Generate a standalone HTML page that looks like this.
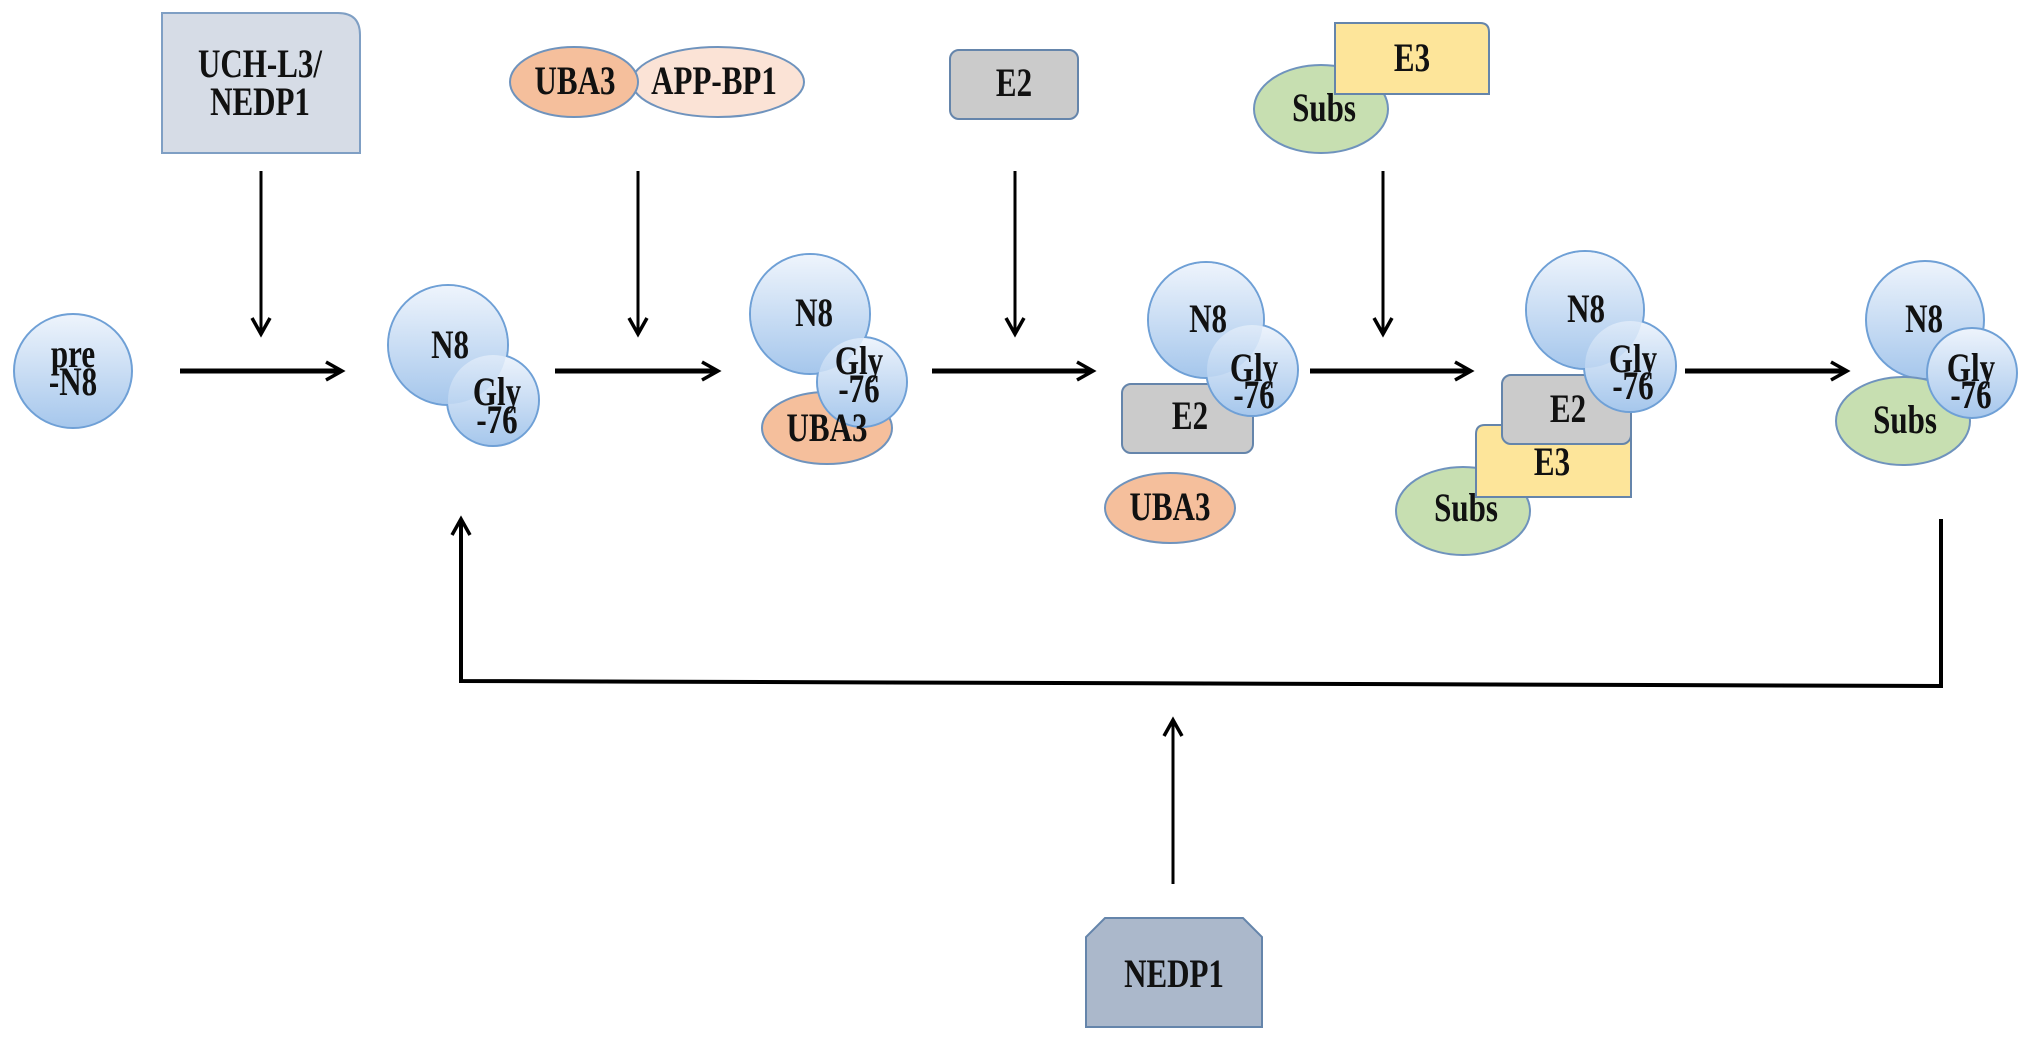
<!DOCTYPE html>
<html><head><meta charset="utf-8"><style>
html,body{margin:0;padding:0;background:#fff;width:2031px;height:1040px;overflow:hidden}
svg text{font-family:"Liberation Serif",serif;font-weight:bold;font-size:31px;fill:#111;text-anchor:middle}
</style></head><body>
<svg width="2031" height="1040" viewBox="0 0 2031 1040" xmlns="http://www.w3.org/2000/svg">
<defs>
<linearGradient id="bl" x1="0" y1="0" x2="0" y2="1"><stop offset="0" stop-color="#eef4fc"/><stop offset="1" stop-color="#a6c7ec"/></linearGradient>
<g id="ah"><path d="M-9,-16 L0,0 L9,-16" fill="none" stroke="#000" stroke-width="3.5"/></g>
</defs>

<!-- top row -->
<path d="M162,13 H338 Q360,13 360,35 V153 H162 Z" fill="#d6dce6" stroke="#7f9fc4" stroke-width="2"/>
<text transform="translate(260,77) scale(1,1.3)">UCH-L3/</text>
<text transform="translate(260,115) scale(1,1.3)">NEDP1</text>

<ellipse cx="718" cy="82" rx="86" ry="35" fill="#fbe3d6" stroke="#6f93bd" stroke-width="2"/>
<ellipse cx="574" cy="82" rx="64" ry="35" fill="#f5bf9c" stroke="#6f93bd" stroke-width="2"/>
<text transform="translate(575,94) scale(1,1.3)">UBA3</text>
<text transform="translate(714,94) scale(1,1.3)">APP-BP1</text>

<rect x="950" y="50" width="128" height="69" rx="9" fill="#cbcbcb" stroke="#6585ab" stroke-width="2"/>
<text transform="translate(1014,96) scale(1,1.3)">E2</text>

<ellipse cx="1321" cy="109" rx="67" ry="44" fill="#c7dfb1" stroke="#6f93bd" stroke-width="2"/>
<path d="M1335,23 H1480 Q1489,23 1489,32 V94 H1335 Z" fill="#fde59a" stroke="#6585ab" stroke-width="2"/>
<text transform="translate(1412,71) scale(1,1.3)">E3</text>
<text transform="translate(1324,121) scale(1,1.3)">Subs</text>

<!-- down arrows -->
<g stroke="#000" stroke-width="3">
<line x1="261" y1="171" x2="261" y2="333"/>
<line x1="638" y1="171" x2="638" y2="333"/>
<line x1="1015" y1="171" x2="1015" y2="333"/>
<line x1="1383" y1="171" x2="1383" y2="333"/>
</g>
<use href="#ah" transform="translate(261,334)"/>
<use href="#ah" transform="translate(638,334)"/>
<use href="#ah" transform="translate(1015,334)"/>
<use href="#ah" transform="translate(1383,334)"/>

<!-- horizontal arrows -->
<g stroke="#000" stroke-width="5">
<line x1="180" y1="371" x2="340" y2="371"/>
<line x1="555" y1="371" x2="716" y2="371"/>
<line x1="932" y1="371" x2="1091" y2="371"/>
<line x1="1310" y1="371" x2="1469" y2="371"/>
<line x1="1685" y1="371" x2="1845" y2="371"/>
</g>
<use href="#ah" transform="translate(342,371) rotate(-90)"/>
<use href="#ah" transform="translate(718,371) rotate(-90)"/>
<use href="#ah" transform="translate(1093,371) rotate(-90)"/>
<use href="#ah" transform="translate(1471,371) rotate(-90)"/>
<use href="#ah" transform="translate(1847,371) rotate(-90)"/>

<!-- pre-N8 -->
<ellipse cx="73" cy="371" rx="59" ry="57" fill="url(#bl)" stroke="#6fa0d6" stroke-width="2"/>
<text transform="translate(73,367) scale(1,1.3)">pre</text>
<text transform="translate(73,395) scale(1,1.3)">-N8</text>

<!-- shape 2 -->
<circle cx="448" cy="345" r="60" fill="url(#bl)" stroke="#6fa0d6" stroke-width="2"/>
<circle cx="493" cy="400" r="46" fill="url(#bl)" stroke="#6fa0d6" stroke-width="2"/>
<circle cx="448" cy="345" r="59" fill="url(#bl)"/>
<circle cx="493" cy="400" r="45" fill="url(#bl)" opacity="0.6"/>
<text transform="translate(450,358) scale(1,1.3)">N8</text>
<text transform="translate(497,405) scale(1,1.3)">Gly</text>
<text transform="translate(497,433) scale(1,1.3)">-76</text>

<!-- shape 3 -->
<ellipse cx="827" cy="428" rx="65" ry="36" fill="#f5bf9c" stroke="#6f93bd" stroke-width="2"/>
<circle cx="810" cy="314" r="60" fill="url(#bl)" stroke="#6fa0d6" stroke-width="2"/>
<circle cx="862" cy="382" r="45" fill="url(#bl)" stroke="#6fa0d6" stroke-width="2"/>
<circle cx="810" cy="314" r="59" fill="url(#bl)"/>
<circle cx="862" cy="382" r="44" fill="url(#bl)" opacity="0.6"/>
<text transform="translate(814,326) scale(1,1.3)">N8</text>
<text transform="translate(859,374) scale(1,1.3)">Gly</text>
<text transform="translate(859,402) scale(1,1.3)">-76</text>
<text transform="translate(827,441) scale(1,1.3)">UBA3</text>

<!-- shape 4 -->
<rect x="1122" y="384" width="131" height="69" rx="9" fill="#cbcbcb" stroke="#6585ab" stroke-width="2"/>
<circle cx="1206" cy="320" r="58" fill="url(#bl)" stroke="#6fa0d6" stroke-width="2"/>
<circle cx="1252" cy="370" r="46" fill="url(#bl)" stroke="#6fa0d6" stroke-width="2"/>
<circle cx="1206" cy="320" r="57" fill="url(#bl)"/>
<circle cx="1252" cy="370" r="45" fill="url(#bl)" opacity="0.6"/>
<text transform="translate(1208,332) scale(1,1.3)">N8</text>
<text transform="translate(1254,381) scale(1,1.3)">Gly</text>
<text transform="translate(1254,408) scale(1,1.3)">-76</text>
<text transform="translate(1190,429) scale(1,1.3)">E2</text>
<ellipse cx="1170" cy="508" rx="65" ry="35" fill="#f5bf9c" stroke="#6f93bd" stroke-width="2"/>
<text transform="translate(1170,520) scale(1,1.3)">UBA3</text>

<!-- shape 5 -->
<ellipse cx="1463" cy="511" rx="67" ry="44" fill="#c7dfb1" stroke="#6f93bd" stroke-width="2"/>
<path d="M1476,434 Q1476,425 1485,425 H1631 V497 H1476 Z" fill="#fde59a" stroke="#6585ab" stroke-width="2"/>
<rect x="1502" y="375" width="129" height="69" rx="9" fill="#cbcbcb" stroke="#6585ab" stroke-width="2"/>
<circle cx="1585" cy="310" r="59" fill="url(#bl)" stroke="#6fa0d6" stroke-width="2"/>
<circle cx="1630" cy="366" r="46" fill="url(#bl)" stroke="#6fa0d6" stroke-width="2"/>
<circle cx="1585" cy="310" r="58" fill="url(#bl)"/>
<circle cx="1630" cy="366" r="45" fill="url(#bl)" opacity="0.6"/>
<text transform="translate(1586,322) scale(1,1.3)">N8</text>
<text transform="translate(1633,372) scale(1,1.3)">Gly</text>
<text transform="translate(1633,399) scale(1,1.3)">-76</text>
<text transform="translate(1568,422) scale(1,1.3)">E2</text>
<text transform="translate(1552,475) scale(1,1.3)">E3</text>
<text transform="translate(1466,521) scale(1,1.3)">Subs</text>

<!-- shape 6 -->
<circle cx="1925" cy="320" r="59" fill="url(#bl)" stroke="#6fa0d6" stroke-width="2"/>
<ellipse cx="1903" cy="421" rx="67" ry="44" fill="#c7dfb1" stroke="#6f93bd" stroke-width="2"/>
<circle cx="1972" cy="373" r="45" fill="url(#bl)" stroke="#6fa0d6" stroke-width="2"/>
<path d="M1930,340 A45,45 0 0 1 1990,332" fill="none"/>
<text transform="translate(1924,332) scale(1,1.3)">N8</text>
<text transform="translate(1971,381) scale(1,1.3)">Gly</text>
<text transform="translate(1971,408) scale(1,1.3)">-76</text>
<text transform="translate(1905,433) scale(1,1.3)">Subs</text>

<!-- feedback loop -->
<polyline points="1941,519 1941,686 461,681 461,522" fill="none" stroke="#000" stroke-width="4"/>
<use href="#ah" transform="translate(461,519) rotate(180)"/>
<line x1="1173" y1="884" x2="1173" y2="723" stroke="#000" stroke-width="3"/>
<use href="#ah" transform="translate(1173,720) rotate(180)"/>

<path d="M1105,918 H1243 L1262,937 V1027 H1086 V937 Z" fill="#abb8cb" stroke="#6585ab" stroke-width="2"/>
<text transform="translate(1174,987) scale(1,1.3)">NEDP1</text>
</svg>
</body></html>
